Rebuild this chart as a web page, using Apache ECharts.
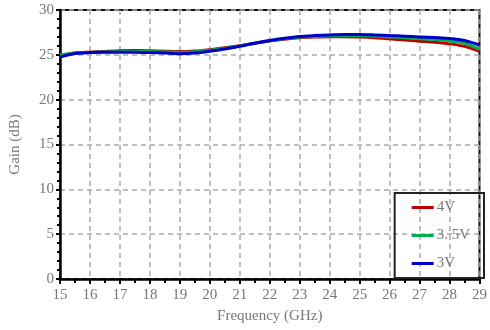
<!DOCTYPE html>
<html>
<head>
<meta charset="utf-8">
<script src="https://cdn.jsdelivr.net/npm/echarts@6/dist/echarts.min.js"></script>
<style>
  html, body { margin: 0; padding: 0; background: #fff; }
  #chart { width: 490px; height: 330px; }
</style>
</head>
<body>
<div id="chart"></div>
<script>
const freq = [15, 15.5, 16, 16.5, 17, 17.5, 18, 18.5, 19, 19.5, 20, 20.5, 21, 21.5, 22,
  22.5, 23, 23.5, 24, 24.5, 25, 25.5, 26, 26.5, 27, 27.5, 28, 28.5, 29];
const gain4V = [24.9, 25.2, 25.3, 25.38, 25.45, 25.47, 25.45, 25.4, 25.36, 25.42, 25.58, 25.78, 26.02, 26.3, 26.55,
  26.75, 26.9, 26.98, 27.02, 27.02, 26.98, 26.9, 26.78, 26.65, 26.52, 26.4, 26.22, 25.95, 25.4];
const gain35V = [25.0, 25.2, 25.28, 25.32, 25.36, 25.38, 25.36, 25.32, 25.28, 25.35, 25.5, 25.72, 26.0, 26.3, 26.58,
  26.8, 26.98, 27.05, 27.1, 27.12, 27.12, 27.08, 27.0, 26.9, 26.8, 26.7, 26.55, 26.3, 25.65];
const gain3V = [24.75, 25.15, 25.25, 25.28, 25.3, 25.3, 25.26, 25.2, 25.12, 25.2, 25.4, 25.65, 25.95, 26.3, 26.6,
  26.85, 27.05, 27.15, 27.22, 27.27, 27.27, 27.22, 27.15, 27.08, 27.0, 26.92, 26.82, 26.6, 26.1];
const seriesNames = ['4V', '3. 5V', '3V'];
const seriesColors = ['#c00000', '#00b050', '#0000cc'];

const font = 'Liberation Serif';
const grayText = '#777';

const chart = echarts.init(document.getElementById('chart'));
const pairs = (ys) => freq.map((x, i) => [x, ys[i]]);

chart.setOption({
  animation: false,
  grid: {
    left: 58, right: 5, top: 10, bottom: 51,
    show: true, borderColor: '#111', borderWidth: 2, backgroundColor: 'transparent'
  },
  legend: {
    orient: 'vertical',
    right: 6, bottom: 52,
    padding: [7, 14, 7, 17],
    itemGap: 13,
    itemWidth: 22, itemHeight: 3,
    icon: 'rect',
    borderColor: '#222', borderWidth: 2,
    backgroundColor: 'transparent',
    textStyle: { fontFamily: font, fontSize: 15, color: grayText, padding: [0, 0, 0, -2] },
    data: seriesNames
  },
  xAxis: {
    type: 'value', min: 15, max: 29, interval: 1,
    name: 'Frequency (GHz)', nameLocation: 'middle', nameGap: 30,
    nameTextStyle: { fontFamily: font, fontSize: 15, color: grayText },
    axisLine: { lineStyle: { color: '#000', width: 2.5 } },
    axisTick: { length: 5, lineStyle: { color: '#000', width: 2 } },
    minorTick: { show: true, splitNumber: 2, length: 4, lineStyle: { color: '#000', width: 2 } },
    axisLabel: { fontFamily: font, fontSize: 15, color: grayText, margin: 9 },
    splitLine: { lineStyle: { color: '#aaa', type: [5, 4], width: 1.5 } }
  },
  yAxis: {
    type: 'value', min: 0, max: 30, interval: 5,
    name: 'Gain (dB)', nameLocation: 'middle', nameGap: 37,
    nameTextStyle: { fontFamily: font, fontSize: 15, color: grayText },
    axisLine: { lineStyle: { color: '#000', width: 2.5 } },
    axisTick: { length: 4, lineStyle: { color: '#000', width: 2 } },
    minorTick: { show: true, splitNumber: 5, length: 3, lineStyle: { color: '#000', width: 2 } },
    axisLabel: { fontFamily: font, fontSize: 15, color: grayText, margin: 6 },
    splitLine: { lineStyle: { color: '#aaa', type: [5, 4], width: 1.5 } }
  },
  series: [gain4V, gain35V, gain3V].map((ys, i) => ({
    name: seriesNames[i],
    type: 'line',
    data: pairs(ys),
    smooth: 0.3,
    showSymbol: false,
    color: seriesColors[i],
    lineStyle: { width: 3, color: seriesColors[i] }
  }))
});
</script>
</body>
</html>
